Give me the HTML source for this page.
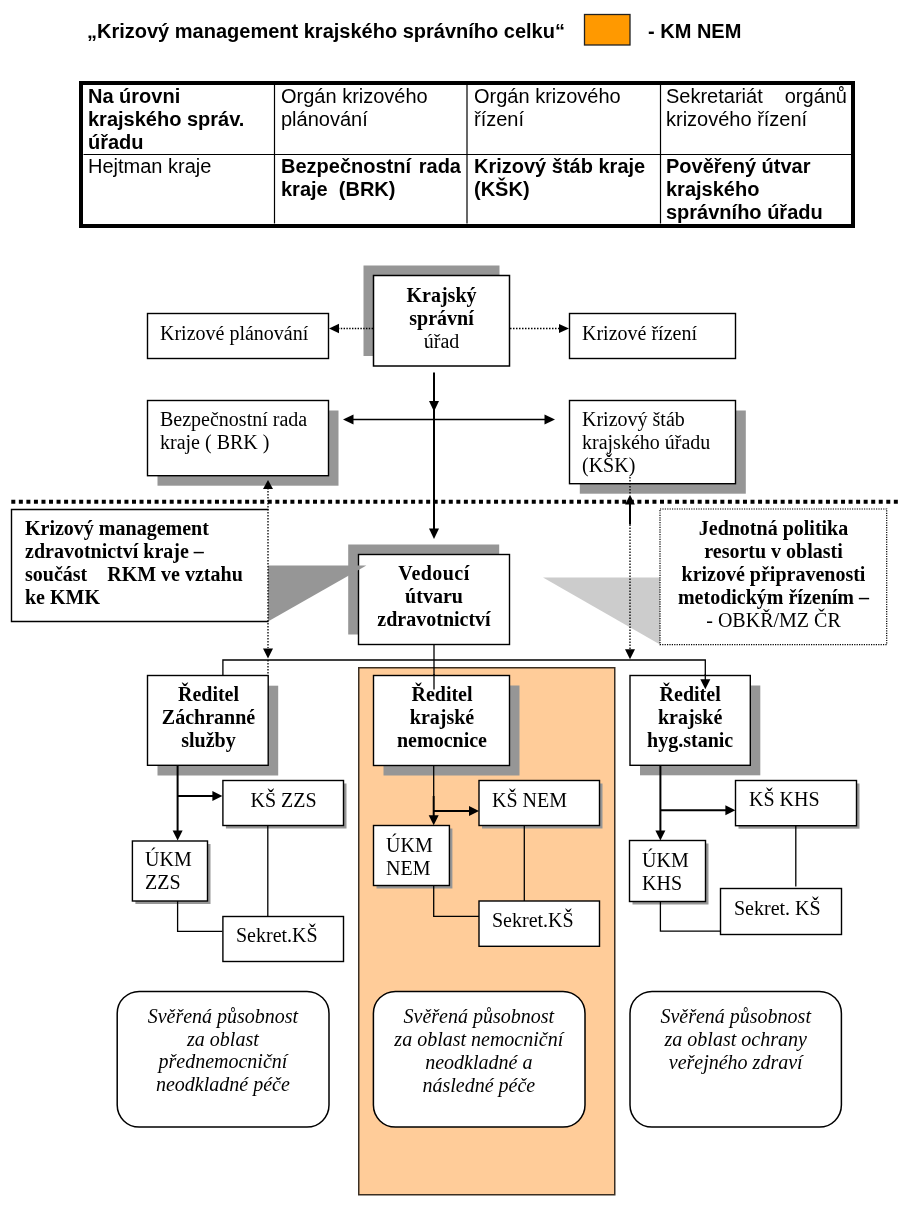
<!DOCTYPE html>
<html><head><meta charset="utf-8">
<style>
html,body{margin:0;padding:0;background:#fff;}
body{width:910px;height:1210px;position:relative;overflow:hidden;}
svg{position:absolute;left:0;top:0;}
.t{position:absolute;font-size:20px;color:#000;white-space:nowrap;will-change:transform;}
.j{display:inline-block;width:100%;text-align:justify;text-align-last:justify;}
</style></head><body>
<svg width="910" height="1210" viewBox="0 0 910 1210">
<rect x="358.75" y="667.75" width="256" height="527" fill="#FFCC99" stroke="#3a2e22" stroke-width="1.5"/>
<rect x="584.5" y="14.5" width="45.50" height="30.50" fill="#FF9900" stroke="#222" stroke-width="1.3" />
<rect x="81" y="83" width="772" height="143" fill="none" stroke="#000" stroke-width="4"/>
<path d="M274.5,84.5 L274.5,223.5" fill="none" stroke="#000" stroke-width="1.2"/>
<path d="M467,84.5 L467,223.5" fill="none" stroke="#000" stroke-width="1.2"/>
<path d="M660.5,84.5 L660.5,223.5" fill="none" stroke="#000" stroke-width="1.2"/>
<path d="M83.5,154.5 L852,154.5" fill="none" stroke="#000" stroke-width="1.2"/>
<rect x="147.5" y="313.5" width="181.00" height="45.00" fill="#fff" stroke="#000" stroke-width="1.4" />
<rect x="363.5" y="265.5" width="136.00" height="90.50" fill="#969696"/>
<rect x="373.5" y="275.5" width="136.00" height="90.50" fill="#fff" stroke="#000" stroke-width="1.5" />
<rect x="569.5" y="313.5" width="166.00" height="45.00" fill="#fff" stroke="#000" stroke-width="1.4" />
<path d="M373,328.5 L338,328.5" fill="none" stroke="#000" stroke-width="1.3" stroke-dasharray="1.4,1.4"/>
<polygon points="329,328.5 339,323.7 339,333.3" fill="#000"/>
<path d="M510,328.5 L559,328.5" fill="none" stroke="#000" stroke-width="1.3" stroke-dasharray="1.5,1.5"/>
<polygon points="569,328.5 559,324.0 559,333.0" fill="#000"/>
<rect x="157.5" y="410.5" width="181.00" height="75.20" fill="#969696"/>
<rect x="147.5" y="400.5" width="181.00" height="75.20" fill="#fff" stroke="#000" stroke-width="1.4" />
<rect x="579.8" y="410.5" width="166.00" height="83.20" fill="#969696"/>
<rect x="569.5" y="400.5" width="166.00" height="83.20" fill="#fff" stroke="#000" stroke-width="1.4" />
<path d="M434,372.5 L434,530" fill="none" stroke="#000" stroke-width="2"/>
<polygon points="434,411.5 429.0,401.0 439.0,401.0" fill="#000"/>
<polygon points="434,539 429.0,528.5 439.0,528.5" fill="#000"/>
<path d="M350,419.5 L548,419.5" fill="none" stroke="#000" stroke-width="1.3"/>
<polygon points="343,419.5 353.5,414.5 353.5,424.5" fill="#000"/>
<polygon points="555,419.5 544.5,414.5 544.5,424.5" fill="#000"/>
<path d="M11.3,501.75 L898,501.75" fill="none" stroke="#000" stroke-width="4" stroke-dasharray="4,3.543"/>
<path d="M268.5,509.5 L11.5,509.5 L11.5,621.5 L268.5,621.5" fill="none" stroke="#000" stroke-width="1.4"/>
<rect x="348.2" y="544.5" width="151.00" height="90.00" fill="#969696"/>
<rect x="358.5" y="554.5" width="151.00" height="90.00" fill="#fff" stroke="#000" stroke-width="1.4" />
<polygon points="268,565.5 268,621.5 366.4,565.5" fill="#969696"/>
<polygon points="543,577.4 660,577.4 660,644.6" fill="#ccc"/>
<rect x="660" y="509" width="226.7" height="135.6" fill="none" stroke="#000" stroke-width="1.2" stroke-dasharray="1.2,1.2"/>
<path d="M268,488 L268,648" fill="none" stroke="#000" stroke-width="1.3" stroke-dasharray="1.5,1.5"/>
<polygon points="268,480 263.0,489 273.0,489" fill="#000"/>
<polygon points="268,658.5 263.0,648.5 273.0,648.5" fill="#000"/>
<path d="M268,660 L268,675" fill="none" stroke="#000" stroke-width="1.3" stroke-dasharray="1.5,1.5"/>
<path d="M630,477 L630,495" fill="none" stroke="#000" stroke-width="1.3" stroke-dasharray="1.5,1.5"/>
<polygon points="630,494.7 625.15,504.4 634.85,504.4" fill="#000"/>
<path d="M630,504 L630,524.6" fill="none" stroke="#000" stroke-width="2"/>
<path d="M630,524.6 L630,650" fill="none" stroke="#000" stroke-width="1.3" stroke-dasharray="1.5,1.5"/>
<polygon points="630,659.3 625.0,649.3 635.0,649.3" fill="#000"/>
<path d="M222.9,675 L222.9,660 L705.3,660 L705.3,675" fill="none" stroke="#000" stroke-width="1.3"/>
<path d="M434,644 L434,675" fill="none" stroke="#000" stroke-width="1.3"/>
<rect x="157.5" y="685.7" width="120.70" height="89.80" fill="#969696"/>
<rect x="147.5" y="675.5" width="120.70" height="89.80" fill="#fff" stroke="#000" stroke-width="1.4" />
<rect x="383.5" y="685.5" width="136.00" height="90.00" fill="#969696"/>
<rect x="373.5" y="675.5" width="136.00" height="90.00" fill="#fff" stroke="#000" stroke-width="1.4" />
<rect x="640" y="685.5" width="120.30" height="89.80" fill="#969696"/>
<rect x="630" y="675.5" width="120.30" height="89.80" fill="#fff" stroke="#000" stroke-width="1.4" />
<path d="M177.6,765 L177.6,832" fill="none" stroke="#000" stroke-width="2"/>
<polygon points="177.6,840.6 172.6,830.6 182.6,830.6" fill="#000"/>
<path d="M177.6,796 L214,796" fill="none" stroke="#000" stroke-width="2"/>
<polygon points="222.4,796 212.4,791.0 212.4,801.0" fill="#000"/>
<rect x="225.9" y="783.5" width="120.60" height="45.00" fill="#969696"/>
<rect x="222.9" y="780.5" width="120.60" height="45.00" fill="#fff" stroke="#000" stroke-width="1.4" />
<rect x="135.4" y="844" width="75.10" height="60.00" fill="#969696"/>
<rect x="132.4" y="841" width="75.10" height="60.00" fill="#fff" stroke="#000" stroke-width="1.4" />
<path d="M177.6,901 L177.6,931.3 L222.4,931.3" fill="none" stroke="#000" stroke-width="1.3"/>
<path d="M267.8,825.7 L267.8,916.5" fill="none" stroke="#000" stroke-width="1.3"/>
<rect x="222.9" y="916.5" width="120.60" height="45.00" fill="#fff" stroke="#000" stroke-width="1.4" />
<path d="M433.7,765.5 L433.7,796" fill="none" stroke="#000" stroke-width="1.3"/>
<path d="M433.7,796 L433.7,817" fill="none" stroke="#000" stroke-width="2"/>
<polygon points="433.7,825.3 428.7,815.3 438.7,815.3" fill="#000"/>
<path d="M433.7,811 L471,811" fill="none" stroke="#000" stroke-width="2"/>
<polygon points="479,811 469,806.0 469,816.0" fill="#000"/>
<rect x="482" y="783.5" width="120.50" height="45.00" fill="#969696"/>
<rect x="479" y="780.5" width="120.50" height="45.00" fill="#fff" stroke="#000" stroke-width="1.4" />
<rect x="376.5" y="828.5" width="75.90" height="60.00" fill="#969696"/>
<rect x="373.5" y="825.5" width="75.90" height="60.00" fill="#fff" stroke="#000" stroke-width="1.4" />
<path d="M433.7,885.7 L433.7,916.3 L479,916.3" fill="none" stroke="#000" stroke-width="1.3"/>
<path d="M524.3,825.7 L524.3,900.9" fill="none" stroke="#000" stroke-width="1.3"/>
<rect x="479" y="901" width="120.50" height="45.30" fill="#fff" stroke="#000" stroke-width="1.4" />
<path d="M660.4,765 L660.4,832" fill="none" stroke="#000" stroke-width="2"/>
<polygon points="660.4,840.4 655.4,830.4 665.4,830.4" fill="#000"/>
<path d="M660.4,810.3 L727,810.3" fill="none" stroke="#000" stroke-width="2"/>
<polygon points="735.4,810.3 725.4,805.3 725.4,815.3" fill="#000"/>
<rect x="738.5" y="783.5" width="121.00" height="45.20" fill="#969696"/>
<rect x="735.5" y="780.5" width="121.00" height="45.20" fill="#fff" stroke="#000" stroke-width="1.4" />
<rect x="632.5" y="843.5" width="76.00" height="61.00" fill="#969696"/>
<rect x="629.5" y="840.5" width="76.00" height="61.00" fill="#fff" stroke="#000" stroke-width="1.4" />
<path d="M660.4,901.5 L660.4,931.2 L720.3,931.2" fill="none" stroke="#000" stroke-width="1.3"/>
<path d="M795.8,825.9 L795.8,886.5" fill="none" stroke="#000" stroke-width="1.3"/>
<rect x="720.5" y="888.5" width="121.00" height="46.00" fill="#fff" stroke="#000" stroke-width="1.4" />
<rect x="117.2" y="991.4" width="211.80" height="135.7" rx="22" ry="22" fill="#fff" stroke="#000" stroke-width="1.5"/>
<rect x="373.4" y="991.4" width="211.60" height="135.7" rx="22" ry="22" fill="#fff" stroke="#000" stroke-width="1.5"/>
<rect x="630" y="991.4" width="211.40" height="135.7" rx="22" ry="22" fill="#fff" stroke="#000" stroke-width="1.5"/>
</svg>
<div class="t" style="left:87px;top:19.70px;line-height:23px;font-family:'Liberation Sans', sans-serif;text-align:left;font-weight:bold;white-space:nowrap;">„Krizový management krajského správního celku“</div>
<div class="t" style="left:647.7px;top:19.70px;line-height:23px;font-family:'Liberation Sans', sans-serif;text-align:left;font-weight:bold;white-space:nowrap;">- KM NEM</div>
<div class="t" style="left:88px;top:84.80px;line-height:23px;font-family:'Liberation Sans', sans-serif;text-align:left;font-weight:bold;">Na úrovni<br>krajského správ.<br>úřadu</div>
<div class="t" style="left:281px;top:84.80px;line-height:23px;font-family:'Liberation Sans', sans-serif;text-align:left;">Orgán krizového<br>plánování</div>
<div class="t" style="left:473.5px;top:84.80px;line-height:23px;font-family:'Liberation Sans', sans-serif;text-align:left;">Orgán krizového<br>řízení</div>
<div class="t" style="left:666px;top:84.80px;line-height:23px;font-family:'Liberation Sans', sans-serif;text-align:left;width:181px;"><span class="j">Sekretariát orgánů</span><br>krizového řízení</div>
<div class="t" style="left:88px;top:155.30px;line-height:23px;font-family:'Liberation Sans', sans-serif;text-align:left;">Hejtman kraje</div>
<div class="t" style="left:281px;top:155.30px;line-height:23px;font-family:'Liberation Sans', sans-serif;text-align:left;width:180px;font-weight:bold;"><span class="j">Bezpečnostní rada</span><br>kraje&nbsp; (BRK)</div>
<div class="t" style="left:473.5px;top:155.30px;line-height:23px;font-family:'Liberation Sans', sans-serif;text-align:left;font-weight:bold;">Krizový štáb kraje<br>(KŠK)</div>
<div class="t" style="left:666px;top:155.30px;line-height:23px;font-family:'Liberation Sans', sans-serif;text-align:left;font-weight:bold;">Pověřený útvar<br>krajského<br>správního úřadu</div>
<div class="t" style="left:160px;top:322.30px;line-height:23px;font-family:'Liberation Serif', serif;text-align:left;">Krizové plánování</div>
<div class="t" style="left:372.8px;top:283.50px;line-height:23px;font-family:'Liberation Serif', serif;text-align:center;width:137px;"><b>Krajský</b><br><b>správní</b><br>úřad</div>
<div class="t" style="left:582px;top:322.30px;line-height:23px;font-family:'Liberation Serif', serif;text-align:left;">Krizové řízení</div>
<div class="t" style="left:160px;top:407.70px;line-height:23px;font-family:'Liberation Serif', serif;text-align:left;">Bezpečnostní rada<br>kraje ( BRK )</div>
<div class="t" style="left:582px;top:407.70px;line-height:23px;font-family:'Liberation Serif', serif;text-align:left;">Krizový štáb<br>krajského úřadu<br>(KŠK)</div>
<div class="t" style="left:24.5px;top:516.80px;line-height:23px;font-family:'Liberation Serif', serif;text-align:left;font-weight:bold;white-space:nowrap;">Krizový management<br>zdravotnictví kraje –<br>součást&nbsp;&nbsp;&nbsp; RKM ve vztahu<br>ke KMK</div>
<div class="t" style="left:358.5px;top:562.20px;line-height:23px;font-family:'Liberation Serif', serif;text-align:center;width:150px;font-weight:bold;"><span style="letter-spacing:0.45px">Vedoucí</span><br>útvaru<br>zdravotnictví</div>
<div class="t" style="left:660px;top:517.00px;line-height:23px;font-family:'Liberation Serif', serif;text-align:center;width:227px;font-weight:bold;">Jednotná politika<br>resortu v oblasti<br>krizové připravenosti<br>metodickým řízením –<br><span style="font-weight:normal">- OBKŘ/MZ ČR</span></div>
<div class="t" style="left:147.5px;top:682.90px;line-height:23px;font-family:'Liberation Serif', serif;text-align:center;width:121px;font-weight:bold;">Ředitel<br>Záchranné<br>služby</div>
<div class="t" style="left:373.5px;top:683.20px;line-height:23px;font-family:'Liberation Serif', serif;text-align:center;width:136px;font-weight:bold;">Ředitel<br>krajské<br>nemocnice</div>
<div class="t" style="left:630px;top:683.20px;line-height:23px;font-family:'Liberation Serif', serif;text-align:center;width:120.3px;font-weight:bold;">Ředitel<br>krajské<br>hyg.stanic</div>
<div class="t" style="left:222.9px;top:789.00px;line-height:23px;font-family:'Liberation Serif', serif;text-align:center;width:121px;">KŠ ZZS</div>
<div class="t" style="left:144.8px;top:847.90px;line-height:23px;font-family:'Liberation Serif', serif;text-align:left;">ÚKM<br>ZZS</div>
<div class="t" style="left:235.6px;top:924.40px;line-height:23px;font-family:'Liberation Serif', serif;text-align:left;">Sekret.KŠ</div>
<div class="t" style="left:491.7px;top:788.60px;line-height:23px;font-family:'Liberation Serif', serif;text-align:left;">KŠ NEM</div>
<div class="t" style="left:386.1px;top:833.60px;line-height:23px;font-family:'Liberation Serif', serif;text-align:left;">ÚKM<br>NEM</div>
<div class="t" style="left:491.7px;top:908.60px;line-height:23px;font-family:'Liberation Serif', serif;text-align:left;">Sekret.KŠ</div>
<div class="t" style="left:748.5px;top:788.20px;line-height:23px;font-family:'Liberation Serif', serif;text-align:left;">KŠ KHS</div>
<div class="t" style="left:642.4px;top:848.50px;line-height:23px;font-family:'Liberation Serif', serif;text-align:left;">ÚKM<br>KHS</div>
<div class="t" style="left:734px;top:897.30px;line-height:23px;font-family:'Liberation Serif', serif;text-align:left;">Sekret. KŠ</div>
<div class="t" style="left:117.2px;top:1005.20px;line-height:22.5px;font-family:'Liberation Serif', serif;text-align:center;width:211.8px;font-style:italic;">Svěřená působnost<br>za oblast<br>přednemocniční<br>neodkladné péče</div>
<div class="t" style="left:373.4px;top:1005.00px;line-height:23px;font-family:'Liberation Serif', serif;text-align:center;width:211.6px;font-style:italic;">Svěřená působnost<br>za oblast nemocniční<br>neodkladné a<br>následné péče</div>
<div class="t" style="left:630px;top:1005.00px;line-height:23px;font-family:'Liberation Serif', serif;text-align:center;width:211.4px;font-style:italic;">Svěřená působnost<br>za oblast ochrany<br>veřejného zdraví</div>
<svg width="910" height="1210" viewBox="0 0 910 1210">
<path d="M705.3,674 L705.3,681" fill="none" stroke="#000" stroke-width="1.3"/>
<polygon points="705.3,689.3 700.3,679.3 710.3,679.3" fill="#000"/>
<path d="M434,674 L434,689.6" fill="none" stroke="#000" stroke-width="1.3"/>
</svg>
</body></html>
